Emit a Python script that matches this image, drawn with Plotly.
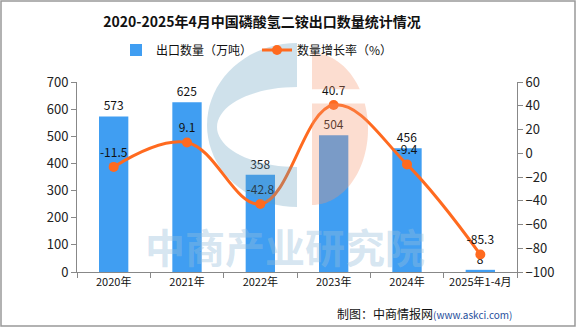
import math
import plotly.graph_objects as go

categories = ["2020年", "2021年", "2022年", "2023年", "2024年", "2025年1-4月"]
export_qty = [573, 625, 358, 504, 456, 8]
growth = [-11.5, 9.1, -42.8, 40.7, -9.4, -85.3]
growth_text = ["-11.5", "9.1", "-42.8", "40.7", "-9.4", "-85.3"]

FONT = "Noto Sans CJK SC, DejaVu Sans, sans-serif"
BAR_C = "#409EF2"
LINE_C = "#FF6A1F"

# plot area in pixels (for decorative logo placement)
L, R, T, B = 77, 517, 82, 272
def px(x):
    return (x - L) / (R - L)
def py(y):
    return (B - y) / (B - T)

def path_from(points):
    return "M " + " L ".join(f"{px(x):.4f},{py(y):.4f}" for x, y in points) + " Z"

def ellipse_pts(cx, cy, rx, ry, a0, a1, n=40):
    pts = []
    for i in range(n + 1):
        a = math.radians(a0 + (a1 - a0) * i / n)
        pts.append((cx + rx * math.cos(a), cy - ry * math.sin(a)))
    return pts

# blue "C" logo
outer = ellipse_pts(297, 125, 90, 82, 90, 270)
inner = ellipse_pts(297, 127, 80, 40, 270, 90)
blue_c = outer + [(297, 167)] + inner + [(297, 87)]
# salmon half disk split by a band
def half_piece(ymin, ymax):
    pts = [p for p in ellipse_pts(312, 129, 56, 76, 90, -90, 120) if ymin <= p[1] <= ymax]
    return [(312, pts[0][1])] + pts + [(312, pts[-1][1])]
salmon_top = half_piece(0, 90)
salmon_bot = half_piece(102, 400)

fig = go.Figure()
fig.add_trace(go.Bar(
    x=categories, y=export_qty, name="出口数量（万吨）",
    marker=dict(color=BAR_C, line=dict(width=0)), width=0.4,
    text=[str(v) for v in export_qty], textposition="outside",
    textfont=dict(size=12, color="#111", family=FONT), cliponaxis=False,
))
fig.add_trace(go.Scatter(
    x=categories, y=growth, name="数量增长率（%）", yaxis="y2",
    mode="lines+markers+text", line=dict(color=LINE_C, width=3, shape="spline", smoothing=1.1),
    marker=dict(color=LINE_C, size=10),
    text=growth_text, textposition="top center",
    textfont=dict(size=12, color="#111", family=FONT), cliponaxis=False,
))

shapes = [
    dict(type="path", xref="paper", yref="paper", path=path_from(blue_c),
         fillcolor="rgba(95,155,190,0.3)", line=dict(width=0), layer="above"),
    dict(type="path", xref="paper", yref="paper", path=path_from(salmon_top),
         fillcolor="rgba(245,150,110,0.32)", line=dict(width=0), layer="above"),
    dict(type="path", xref="paper", yref="paper", path=path_from(salmon_bot),
         fillcolor="rgba(245,150,110,0.32)", line=dict(width=0), layer="above"),
    dict(type="rect", xref="paper", yref="paper",
         x0=px(1), x1=px(575), y0=py(326), y1=py(1),
         line=dict(color="#999", width=1.5), fillcolor="rgba(0,0,0,0)"),
]

fig.update_layout(
    width=576, height=327,
    margin=dict(l=L, r=576 - R, t=T, b=327 - B),
    paper_bgcolor="white", plot_bgcolor="white",
    font=dict(family=FONT, size=12, color="#222"),
    title=dict(text="<b>2020-2025年4月中国磷酸氢二铵出口数量统计情况</b>", x=262 / 576, xanchor="center",
               y=1 - 22 / 327, yanchor="middle", font=dict(size=14, color="#111", family=FONT)),
    legend=dict(orientation="h", x=px(257), xanchor="center", y=py(50), yanchor="middle",
                font=dict(size=12, family=FONT, color="#111"), bgcolor="rgba(0,0,0,0)",
                itemwidth=30),
    bargap=0.6,
    xaxis=dict(showline=True, linecolor="#888", linewidth=1, ticks="outside", tickson="boundaries",
               ticklen=5, tickcolor="#888", tickfont=dict(size=11, color="#111"), showgrid=False,
               tickangle=0),
    yaxis=dict(range=[0, 700], dtick=100, showline=True, linecolor="#888", ticks="outside",
               ticklen=5, tickcolor="#888", showgrid=False, zeroline=False,
               tickfont=dict(size=13, color="#222")),
    yaxis2=dict(range=[-100, 60], dtick=20, overlaying="y", side="right", showline=True,
                linecolor="#888", ticks="outside", ticklen=5, tickcolor="#888", showgrid=False,
                zeroline=False, tickfont=dict(size=13, color="#222")),
    shapes=shapes,
)
fig.add_annotation(text="<b>中商产业研究院</b>", x=px(285), y=py(246), xref="paper", yref="paper",
                   xanchor="center", yanchor="middle",
                   showarrow=False, font=dict(size=40, color="rgba(150,190,220,0.4)", family=FONT))
fig.add_annotation(text="制图：中商情报网<span style='color:#1f4e9c;font-size:10px'>(www.askci.com)</span>",
                   x=px(514), xref="paper", xanchor="right", y=py(313), yref="paper", yanchor="middle",
                   showarrow=False, font=dict(size=12, color="#111", family=FONT))

fig.write_html("out.html")
